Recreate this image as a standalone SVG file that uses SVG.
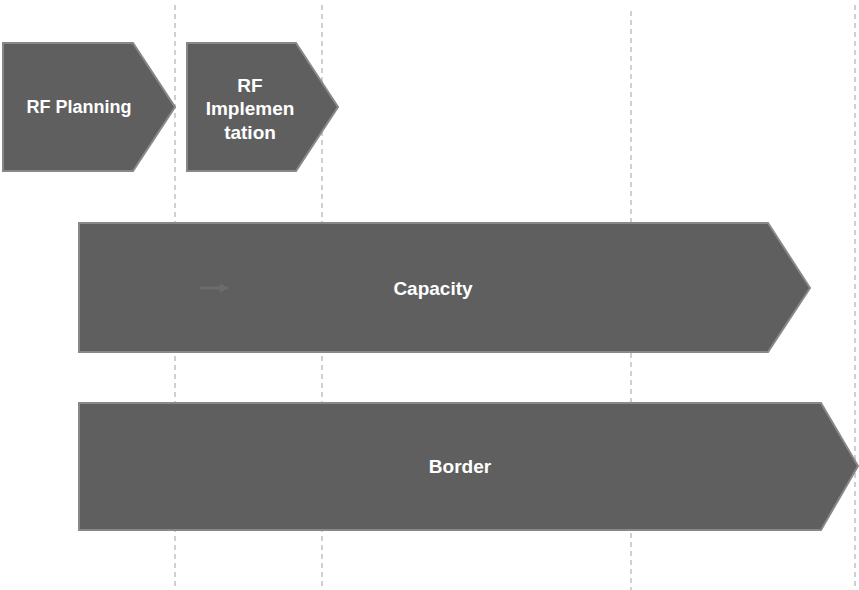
<svg xmlns="http://www.w3.org/2000/svg" width="859" height="590" viewBox="0 0 859 590">
<defs>
<style>
.grid{stroke:#c0c0c0;stroke-width:1.5;stroke-dasharray:5,4;fill:none}
.chev{fill:#5f5f5f;stroke:#888888;stroke-width:2}
.lbl{font-family:"Liberation Sans",Arial,sans-serif;font-weight:bold;font-size:19px;fill:#ffffff;text-anchor:middle;dominant-baseline:central}
.conn{stroke:#6c6c6c;stroke-width:3;fill:none}
</style>
<marker id="ah" viewBox="0 0 10 10" refX="9" refY="5" markerWidth="3" markerHeight="3" orient="auto"><path d="M0,0L10,5L0,10z" fill="#6c6c6c"/></marker>
</defs>
<g id="gridlines">
<line class="grid" x1="175" y1="5" x2="175" y2="586"/>
<line class="grid" x1="322" y1="5" x2="322" y2="586"/>
<line class="grid" x1="631" y1="11" x2="631" y2="590"/>
<line class="grid" x1="855" y1="5" x2="855" y2="590"/>
</g>
<g id="rf-planning">
<polygon class="chev" points="3,43 133,43 175,107 133,171 3,171"/>
<text class="lbl" x="79" y="107" style="font-size:18px">RF Planning</text>
</g>
<g id="rf-implementation">
<polygon class="chev" points="187,43 296,43 338,107 296,171 187,171"/>
<text class="lbl" x="250" y="85">RF</text>
<text class="lbl" x="250" y="108">Implemen</text>
<text class="lbl" x="250" y="132">tation</text>
</g>
<g id="capacity">
<polygon class="chev" points="79,223 768,223 810,288 768,352 79,352"/>
<text class="lbl" x="433" y="288">Capacity</text>
</g>
<g id="border">
<polygon class="chev" points="79,403 821,403 858,466 821,530 79,530"/>
<text class="lbl" x="460" y="466">Border</text>
</g>
<g id="connectors">
<line class="conn" x1="200" y1="288" x2="228" y2="288" marker-end="url(#ah)"/>
</g>
</svg>
